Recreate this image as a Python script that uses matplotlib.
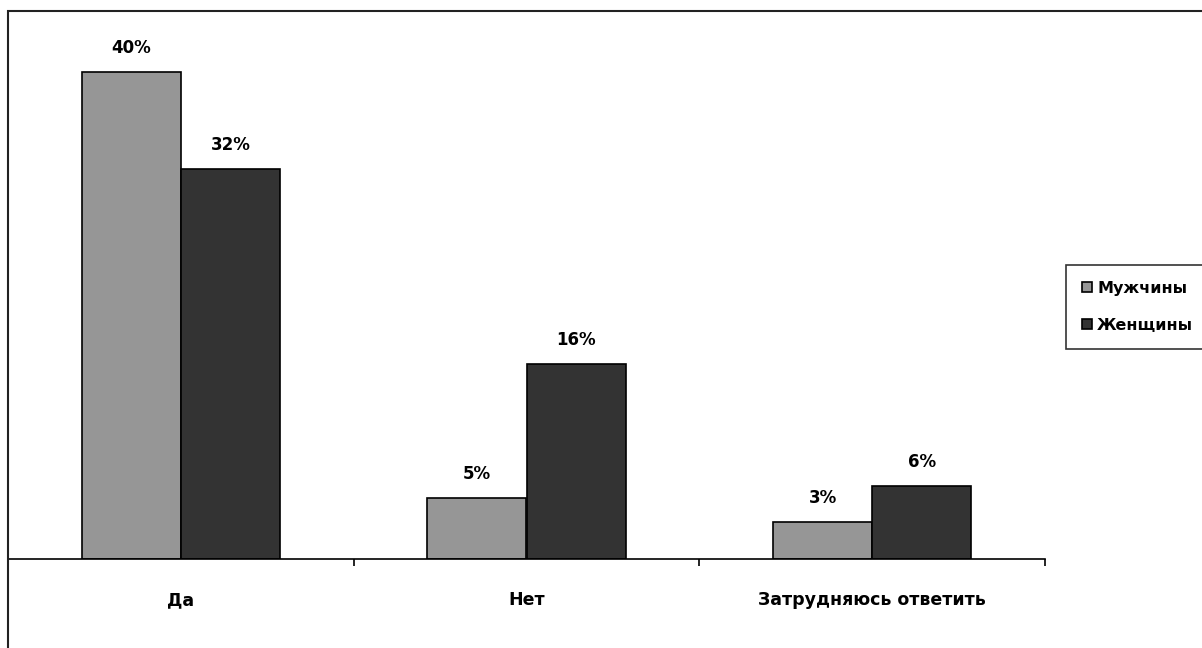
import matplotlib.pyplot as plt
import numpy as np
from matplotlib.patches import Rectangle

# answers and shares (%)
categories = ['Да', 'Нет', 'Затрудняюсь ответить']
men = [40, 5, 3]
women = [32, 16, 6]
series_names = ['Мужчины', 'Женщины']

plt.rcParams['font.family'] = ['DejaVu Sans']
plt.rcParams['font.weight'] = 'bold'

fig = plt.figure(figsize=(12.02, 6.48), dpi=100)
ax = fig.add_axes([8 / 1202, 89 / 648, 1037 / 1202, 548 / 648])

x = np.arange(len(categories))
w = 0.287
b1 = ax.bar(x - w / 2, men, w, color='#969696', edgecolor='black', linewidth=1.2, label=series_names[0])
b2 = ax.bar(x + w / 2, women, w, color='#333333', edgecolor='black', linewidth=1.2, label=series_names[1])

for bars in (b1, b2):
    for bar in bars:
        ax.annotate(f'{bar.get_height():.0f}%',
                    (bar.get_x() + bar.get_width() / 2, bar.get_height()),
                    xytext=(0, 11), textcoords='offset points',
                    ha='center', va='bottom', fontsize=12, fontweight='bold')

ax.set_xlim(-0.5, len(categories) - 0.5)
ax.set_ylim(0, 45)

# ticks at category boundaries, labels at centers
ax.set_xticks(np.arange(len(categories) + 1) - 0.5)
ax.set_xticklabels([])
ax.tick_params(axis='x', which='major', direction='out', length=5, width=1.2)
ax.set_xticks(x, minor=True)
ax.set_xticklabels(categories, minor=True, fontsize=12.5, fontweight='bold')
ax.tick_params(axis='x', which='minor', length=0, pad=23)
ax.set_yticks([])

for s in ['top', 'right', 'left']:
    ax.spines[s].set_visible(False)
ax.spines['bottom'].set_linewidth(1.2)

# outer chart frame
fig.patches.append(Rectangle((8 / 1202, -0.1), 1.1, 1.1 - 11 / 648,
                             transform=fig.transFigure, fill=False,
                             edgecolor='#222222', linewidth=1.5))

leg = ax.legend(loc='upper left', bbox_to_anchor=(1066 / 1202, 1 - 265 / 648),
                bbox_transform=fig.transFigure, fontsize=11.5, frameon=True,
                fancybox=False, handlelength=0.6, handleheight=0.6,
                handletextpad=0.35, labelspacing=1.35, borderpad=1.0,
                borderaxespad=0)
leg.get_frame().set_edgecolor('black')
leg.get_frame().set_linewidth(1.2)

fig.savefig('out.png', dpi=100)
